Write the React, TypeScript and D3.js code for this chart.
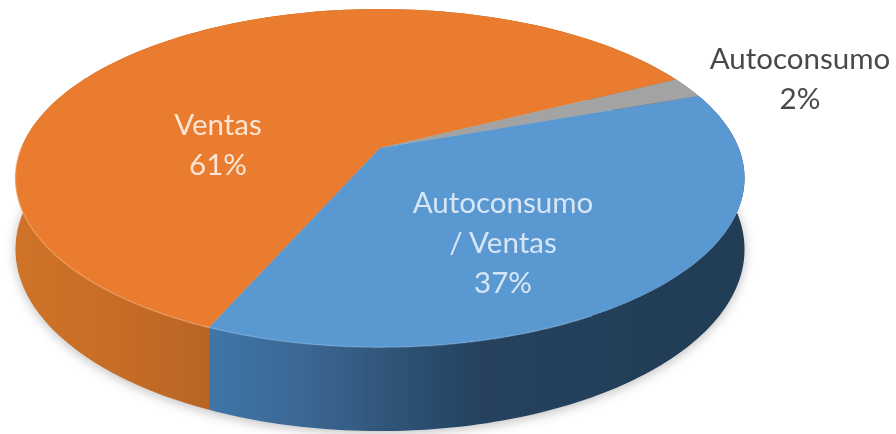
import React from 'react'
import * as d3 from 'd3'

const categories = ['Ventas', 'Autoconsumo', 'Autoconsumo / Ventas']
const shares = [61, 2, 37]
const topColors = ['#e97b2e', '#a3a3a3', '#5a98d2']

const labels = [
    { lines: ['Ventas', '61%'], x: 218, y: 135, fill: '#fbe6d6' },
    { lines: ['Autoconsumo', '/ Ventas', '37%'], x: 503, y: 213, fill: '#d6e6f4' },
    { lines: ['Autoconsumo', '2%'], x: 800, y: 69, fill: '#4a4a4a' },
]

const width = 896
const height = 434

// perspective of the disc, worked out from the picture
const cx = 380
const cy = 148
const rx = 358.7
const ry = 163.7
const tilt = -0.178
const depth = 69
const startDeg = 203.5

const project = (angle: number, drop: number): [number, number] => {
    const u = Math.sin(angle)
    const v = -Math.cos(angle)
    const w = 1 + tilt * v
    return [cx + (rx * u) / w, cy + (ry * v + drop) / w]
}

const start = (startDeg * Math.PI) / 180
const slices = d3.pie<number>().sort(null).startAngle(start).endAngle(start + Math.PI * 2)(shares)

const pathLine = d3.line()

const arcPoints = (a0: number, a1: number, drop: number) =>
    d3.range(0, 121).map(i => project(a0 + ((a1 - a0) * i) / 120, drop))

const topPath = (a0: number, a1: number) => pathLine([[cx, cy], ...arcPoints(a0, a1, 0)]) + 'Z'
const rimPath = (a0: number, a1: number) =>
    pathLine([...arcPoints(a0, a1, 0), ...arcPoints(a0, a1, depth).reverse()]) + 'Z'

const App = () => {
    return (
        <svg
            width={width}
            height={height}
            style={{ position: 'absolute', left: 0, top: 0, background: '#fff' }}
        >
            <defs>
                <linearGradient id="rim-0" gradientUnits="userSpaceOnUse" x1={16} x2={213} y1={0} y2={0}>
                    <stop offset="0" stopColor="#cf7329" />
                    <stop offset="0.5" stopColor="#c66d27" />
                    <stop offset="1" stopColor="#b76424" />
                </linearGradient>
                <linearGradient id="rim-2" gradientUnits="userSpaceOnUse" x1={213} x2={745} y1={0} y2={0}>
                    <stop offset="0" stopColor="#3f75a9" />
                    <stop offset="0.18" stopColor="#3a6691" />
                    <stop offset="0.36" stopColor="#2d5274" />
                    <stop offset="0.5" stopColor="#25425e" />
                    <stop offset="1" stopColor="#233c56" />
                </linearGradient>
                <filter id="shadow" x="-10%" y="-10%" width="120%" height="130%">
                    <feGaussianBlur stdDeviation="6" />
                </filter>
                <filter id="soft" x="-5%" y="-5%" width="110%" height="110%">
                    <feGaussianBlur stdDeviation="0.7" />
                </filter>
            </defs>

            <path
                d={pathLine(arcPoints(0, Math.PI * 2, depth + 2)) + 'Z'}
                fill="#000"
                opacity={0.25}
                filter="url(#shadow)"
            />

            <g filter="url(#soft)">
                {slices.map((s, i) => (
                    <path key={categories[i]} d={rimPath(s.startAngle, s.endAngle)} fill={i === 1 ? '#7c7c7c' : `url(#rim-${i})`} />
                ))}
                {slices.map((s, i) => (
                    <path key={categories[i]} d={topPath(s.startAngle, s.endAngle)} fill={topColors[i]} />
                ))}
                <path
                    d={pathLine(arcPoints((150 * Math.PI) / 180, slices[0].startAngle, 0)) ?? ''}
                    fill="none"
                    stroke="#7fb3e2"
                    strokeWidth={1.5}
                    opacity={0.5}
                />
                <path
                    d={pathLine(arcPoints(slices[0].startAngle, (270 * Math.PI) / 180, 0)) ?? ''}
                    fill="none"
                    stroke="#f5a567"
                    strokeWidth={1.5}
                    opacity={0.6}
                />
            </g>

            <g filter="url(#soft)">
                {labels.map(label => (
                    <text
                        key={label.lines.join(' ')}
                        textAnchor="middle"
                        fontFamily="Lato, 'Open Sans', sans-serif"
                        fontSize={29.5}
                        fill={label.fill}
                    >
                        {label.lines.map((line, i) => (
                            <tspan key={line} x={label.x} y={label.y + i * 40}>
                                {line}
                            </tspan>
                        ))}
                    </text>
                ))}
            </g>
        </svg>
    )
}

export default App
